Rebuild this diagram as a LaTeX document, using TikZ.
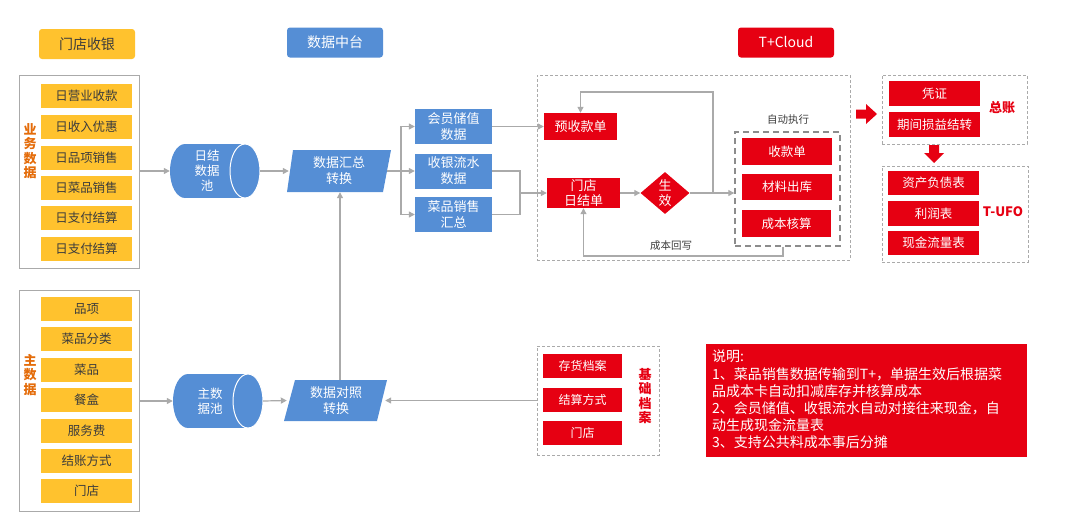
\documentclass[tikz,border=0pt]{standalone}
\usepackage{fontspec}
\newfontfamily\cjk{Noto Sans CJK SC}
\usetikzlibrary{arrows.meta,shapes.geometric}
\definecolor{ylw}{RGB}{255,194,46}
\definecolor{blu}{RGB}{85,142,213}
\definecolor{rd}{RGB}{230,0,18}
\definecolor{gry}{RGB}{170,170,170}
\definecolor{dgry}{RGB}{140,140,140}
\definecolor{org}{RGB}{228,108,10}
\definecolor{dk}{RGB}{60,60,60}
\tikzset{
 base/.style={font=\cjk\fontsize{12.5}{15}\selectfont, inner sep=0pt, align=center},
 ybox/.style={base, fill=ylw, text=dk, minimum width=91pt, minimum height=24pt},
 bbox/.style={base, font=\cjk\fontsize{13}{16}\selectfont, fill=blu, text=white, minimum width=77pt, minimum height=35pt},
 rbox/.style={base, fill=rd, text=white},
 hdr/.style={base, rounded corners=3pt, minimum width=96pt, minimum height=30pt, font=\cjk\fontsize{14}{16}\selectfont},
 grp/.style={draw=gry, line width=1pt, minimum width=120pt, inner sep=0pt},
 dbox/.style={draw=gry, dash pattern=on 3pt off 2pt, line width=0.8pt, inner sep=0pt},
 conn/.style={draw=gry, line width=1.2pt, -{Triangle[length=6pt,width=6pt]}},
 plainln/.style={draw=gry, line width=1.2pt},
 vlab/.style={font=\cjk\bfseries\fontsize{13}{14.5}\selectfont, align=center, inner sep=0pt},
 rlab/.style={font=\cjk\bfseries\fontsize{13}{15}\selectfont, text=rd, inner sep=0pt},
 small/.style={font=\cjk\fontsize{10.5}{12}\selectfont, text=dk, inner sep=0pt},
}
\begin{document}
\begin{tikzpicture}[x=1pt,y=-1pt]
\useasboundingbox (0,0) rectangle (1080,515);
% headers
\node[hdr, fill=ylw, text=dk] (h1) at (87,44) {门店收银};
\node[hdr, fill=blu, text=white] (h2) at (335,42.5) {数据中台};
\node[hdr, fill=rd, text=white] (h3) at (786,42.5) {T+Cloud};
% left groups
\node[grp, minimum height=193pt] (g1) at (79,171.5) {};
\node[grp, minimum height=221pt] (g2) at (79,400.5) {};
\node[ybox] (a1) at (86.5,96) {日营业收款};
\node[ybox] (a2) at (86.5,127) {日收入优惠};
\node[ybox] (a3) at (86.5,158) {日品项销售};
\node[ybox] (a4) at (86.5,188) {日菜品销售};
\node[ybox] (a5) at (86.5,218) {日支付结算};
\node[ybox] (a6) at (86.5,249) {日支付结算};
\node[vlab, text=org] (l1) at (30,151) {业\\务\\数\\据};
\node[ybox] (m1) at (86.5,309) {品项};
\node[ybox] (m2) at (86.5,339) {菜品分类};
\node[ybox] (m3) at (86.5,370) {菜品};
\node[ybox] (m4) at (86.5,400) {餐盒};
\node[ybox] (m5) at (86.5,431) {服务费};
\node[ybox] (m6) at (86.5,461) {结账方式};
\node[ybox] (m7) at (86.5,491) {门店};
\node[vlab, text=org] (l2) at (30,375) {主\\数\\据};
% cylinders
\fill[blu] (185,144) rectangle (245,198);
\fill[blu] (185,171) ellipse [x radius=15, y radius=27];
\fill[blu] (245,171) ellipse [x radius=15, y radius=27];
\draw[white, line width=1pt] (245,171) ellipse [x radius=15, y radius=27];
\node[inner sep=0pt, minimum width=90pt, minimum height=54pt] (p1) at (215,171) {};
\node[base, text=white] (p1t) at (207,171) {日结\\数据\\池};
\fill[blu] (188,374) rectangle (248,428);
\fill[blu] (188,401) ellipse [x radius=15, y radius=27];
\fill[blu] (248,401) ellipse [x radius=15, y radius=27];
\draw[white, line width=1pt] (248,401) ellipse [x radius=15, y radius=27];
\node[inner sep=0pt, minimum width=90pt, minimum height=54pt] (p2) at (218,401) {};
\node[base, text=white] (p2t) at (210,401) {主数\\据池};
% parallelograms
\fill[blu] (293,150) -- (391,150) -- (383,192) -- (287,192) -- cycle;
\node[base, font=\cjk\fontsize{13}{16}\selectfont, text=white, minimum width=100pt, minimum height=42pt] (s1) at (339,171) {数据汇总\\转换};
\fill[blu] (295,380) -- (387,380) -- (377,421) -- (284,421) -- cycle;
\node[base, font=\cjk\fontsize{13}{16}\selectfont, text=white, minimum width=98pt, minimum height=41pt] (s2) at (336,400.5) {数据对照\\转换};
% blue boxes
\node[bbox] (b1) at (453.5,126.5) {会员储值\\数据};
\node[bbox] (b2) at (453.5,171) {收银流水\\数据};
\node[bbox] (b3) at (453.5,214.5) {菜品销售\\汇总};
% T+Cloud area
\node[dbox, minimum width=313pt, minimum height=185pt] (tc) at (693.5,167.5) {};
\node[rbox, font=\cjk\fontsize{13}{16}\selectfont, minimum width=73pt, minimum height=27pt] (r1) at (580.5,126.5) {预收款单};
\node[rbox, font=\cjk\fontsize{13}{15}\selectfont, minimum width=73pt, minimum height=30pt] (r2) at (583.5,193) {门店\\日结单};
\node[diamond, fill=rd, text=white, inner sep=0pt, minimum width=49pt, minimum height=42pt, align=center, font=\cjk\fontsize{13}{15}\selectfont] (dia) at (665,193) {生\\效};
\node[draw=dgry, dash pattern=on 6pt off 4pt, line width=1.4pt, minimum width=105pt, minimum height=114pt, inner sep=0pt] (ae) at (787.5,189) {};
\node[small] (aet) at (788,120) {自动执行};
\node[rbox, minimum width=90pt, minimum height=27pt] (k1) at (787,151.5) {收款单};
\node[rbox, minimum width=90pt, minimum height=26pt] (k2) at (787,187) {材料出库};
\node[rbox, minimum width=89pt, minimum height=27pt] (k3) at (786.5,223.5) {成本核算};
\node[small] (cbt) at (671,246) {成本回写};
% connectors
\draw[conn] (g1.east |- p1.west) -- (p1.west);
\draw[conn] (p1.east) -- (s1.west);
\draw[conn] (g2.east |- p2.west) -- (p2.west);
\draw[conn] (p2.east) -- (s2.west);
\draw[conn] ([xshift=1pt]s1.south |- s2.north) -- ([xshift=1pt]s1.south);
\coordinate (br) at (401,171);
\draw[plainln] ([xshift=-2pt]s1.east) -- (br);
\draw[conn] (br) |- (b1.west);
\draw[conn] (br) -- (b2.west);
\draw[conn] (br) |- (b3.west);
\draw[conn] (b1.east) -- (r1.west);
\coordinate (mg) at (520,193);
\draw[plainln] (b2.east) -| (mg);
\draw[plainln] (b3.east) -| (mg);
\draw[conn] (mg) -- (r2.west);
\draw[conn] (r2.east) -- (dia.west);
\coordinate (jn) at (713,193);
\coordinate (tp) at (713,92);
\draw[plainln] (dia.east) -- (jn);
\draw[conn] (jn) -- (tp) -| (r1.north);
\draw[conn] (jn) -- (ae.west |- jn);
\coordinate (bt) at (783,256);
\draw[conn] (ae.south -| bt) -- (bt) -| (r2.south);
% right side
\fill[rd] (856,109.5) -- (866,109.5) -- (866,104) -- (877,114) -- (866,124) -- (866,118.5) -- (856,118.5) -- cycle;
\node[dbox, minimum width=145pt, minimum height=69pt] (gl) at (954.5,109.5) {};
\node[rbox, minimum width=91pt, minimum height=25pt] (v1) at (934.5,93.5) {凭证};
\node[rbox, minimum width=91pt, minimum height=25pt] (v2) at (934.5,124.5) {期间损益结转};
\node[rlab] (glt) at (1002,108) {总账};
\fill[rd] (929,145) -- (939,145) -- (939,153) -- (944,153) -- (934,163) -- (924,153) -- (929,153) -- cycle;
\node[dbox, minimum width=146pt, minimum height=96pt] (tu) at (955,214) {};
\node[rbox, minimum width=91pt, minimum height=24pt] (u1) at (933.5,183) {资产负债表};
\node[rbox, minimum width=91pt, minimum height=25pt] (u2) at (933.5,213.5) {利润表};
\node[rbox, minimum width=91pt, minimum height=24pt] (u3) at (933.5,243) {现金流量表};
\node[rlab] (tut) at (1003,212) {T-UFO};
% base files
\node[dbox, minimum width=122pt, minimum height=109pt] (jc) at (598,400.5) {};
\node[rbox, font=\cjk\fontsize{12}{14}\selectfont, minimum width=79pt, minimum height=24pt] (f1) at (582.5,366) {存货档案};
\node[rbox, font=\cjk\fontsize{12}{14}\selectfont, minimum width=79pt, minimum height=24pt] (f2) at (582.5,400) {结算方式};
\node[rbox, font=\cjk\fontsize{12}{14}\selectfont, minimum width=79pt, minimum height=24pt] (f3) at (582.5,433) {门店};
\node[vlab, text=rd] (jct) at (645,396) {基\\础\\档\\案};
\draw[conn] (jc.west) -- (s2.east);
% note
\node[fill=rd, minimum width=321pt, minimum height=113pt, inner sep=0pt] (note) at (866.5,400.5) {};
\node[anchor=north west, text=white, align=left, inner sep=0pt, font=\cjk\fontsize{14}{17.2}\selectfont] (notet) at (712,350) {说明:\\1、菜品销售数据传输到T+，单据生效后根据菜\\品成本卡自动扣减库存并核算成本\\2、会员储值、收银流水自动对接往来现金，自\\动生成现金流量表\\3、支持公共料成本事后分摊};
\end{tikzpicture}
\end{document}
